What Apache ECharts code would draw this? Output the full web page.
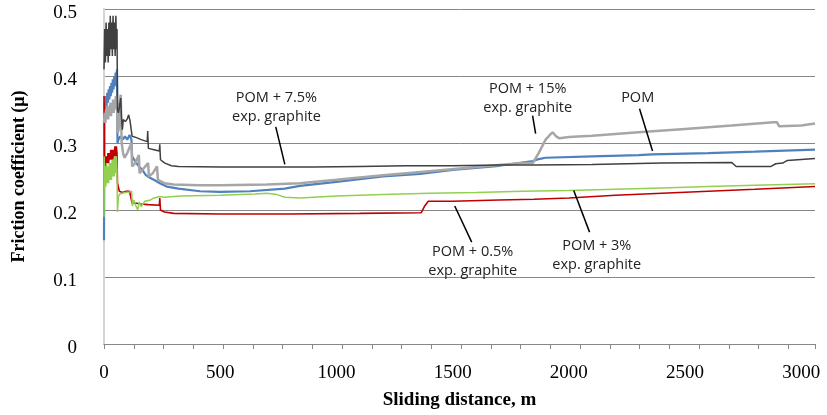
<!DOCTYPE html>
<html>
<head>
<meta charset="utf-8">
<script src="https://cdn.jsdelivr.net/npm/echarts@6/dist/echarts.min.js"></script>
<style>
  html, body { margin: 0; padding: 0; background: #fff; }
  #chart { width: 827px; height: 415px; }
</style>
</head>
<body>
<div id="chart"></div>
<script>
// sliding distance (m), friction coefficient
const pom = [[0,0.155],[2,0.36],[5,0.35],[8,0.37],[11,0.355],[14,0.375],[17,0.36],[20,0.38],[23,0.365],[26,0.385],[29,0.37],[32,0.39],[35,0.375],[38,0.395],[41,0.38],[44,0.40],[47,0.385],[50,0.405],[53,0.39],[56,0.41],[58,0.30],[62,0.305],[70,0.31],[80,0.305],[90,0.31],[100,0.305],[110,0.312],[118,0.305],[121,0.28],[130,0.275],[140,0.27],[150,0.265],[165,0.26],[180,0.252],[198,0.248],[220,0.244],[240,0.24],[270,0.235],[320,0.232],[413,0.228],[500,0.227],[628,0.228],[778,0.232],[843,0.236],[1000,0.242],[1200,0.25],[1360,0.254],[1500,0.26],[1700,0.266],[1845,0.273],[1870,0.276],[1900,0.278],[2100,0.28],[2300,0.282],[2360,0.283],[2600,0.285],[2800,0.287],[3059,0.29]];

const pom05 = [[0,0.37],[1,0.35],[2,0.27],[5,0.28],[8,0.265],[11,0.28],[14,0.27],[17,0.285],[20,0.27],[23,0.285],[26,0.275],[29,0.29],[32,0.275],[35,0.29],[38,0.275],[41,0.29],[44,0.28],[47,0.295],[50,0.28],[53,0.295],[56,0.285],[58,0.24],[62,0.238],[66,0.228],[80,0.226],[95,0.228],[110,0.228],[118,0.23],[121,0.21],[140,0.21],[160,0.209],[190,0.208],[238,0.207],[240,0.218],[243,0.2],[260,0.197],[300,0.195],[500,0.194],[800,0.194],[1100,0.195],[1365,0.196],[1380,0.206],[1395,0.213],[1500,0.213],[1700,0.215],[1850,0.216],[2000,0.218],[2200,0.222],[2400,0.225],[2600,0.228],[2800,0.231],[3059,0.235]];

const pom3 = [[0,0.19],[1,0.28],[2,0.23],[5,0.265],[8,0.235],[11,0.27],[14,0.24],[17,0.265],[20,0.24],[23,0.27],[26,0.245],[29,0.27],[32,0.245],[35,0.275],[38,0.25],[41,0.275],[44,0.25],[47,0.28],[50,0.255],[53,0.28],[56,0.26],[58,0.197],[62,0.22],[68,0.224],[90,0.226],[110,0.227],[119,0.228],[122,0.206],[128,0.215],[135,0.208],[145,0.2],[152,0.212],[160,0.205],[175,0.213],[200,0.215],[215,0.218],[240,0.22],[260,0.219],[330,0.221],[500,0.222],[650,0.224],[700,0.225],[745,0.223],[778,0.219],[843,0.218],[1000,0.221],[1200,0.223],[1400,0.225],[1600,0.226],[1800,0.228],[2000,0.229],[2200,0.231],[2400,0.233],[2600,0.235],[2800,0.237],[3059,0.239]];

const pom15 = [[0,0.33],[3,0.345],[6,0.33],[9,0.35],[12,0.335],[15,0.355],[18,0.335],[21,0.355],[24,0.34],[27,0.36],[30,0.34],[33,0.36],[36,0.345],[39,0.365],[42,0.345],[45,0.365],[48,0.35],[51,0.37],[54,0.35],[57,0.36],[59,0.315],[63,0.32],[68,0.36],[72,0.372],[76,0.30],[82,0.285],[88,0.278],[100,0.285],[112,0.295],[118,0.30],[121,0.265],[135,0.27],[150,0.282],[153,0.255],[170,0.262],[190,0.27],[193,0.25],[210,0.255],[228,0.265],[232,0.245],[260,0.24],[300,0.238],[413,0.237],[500,0.237],[700,0.238],[843,0.24],[1000,0.245],[1200,0.252],[1400,0.258],[1600,0.264],[1800,0.27],[1845,0.27],[1870,0.285],[1900,0.305],[1918,0.312],[1930,0.316],[1945,0.31],[1960,0.307],[2000,0.309],[2100,0.311],[2300,0.316],[2500,0.321],[2700,0.326],[2880,0.331],[2895,0.331],[2905,0.325],[3000,0.326],[3059,0.329]];

const pom75 = [[0,0.41],[3,0.47],[6,0.42],[9,0.48],[12,0.43],[15,0.47],[18,0.42],[21,0.48],[24,0.43],[27,0.49],[30,0.44],[33,0.48],[36,0.43],[39,0.49],[42,0.44],[45,0.48],[48,0.43],[51,0.49],[54,0.44],[56,0.47],[58,0.35],[62,0.345],[67,0.355],[72,0.367],[75,0.34],[79,0.32],[83,0.335],[92,0.332],[100,0.336],[106,0.342],[112,0.333],[118,0.333],[121,0.31],[140,0.308],[160,0.305],[186,0.302],[188,0.318],[191,0.292],[215,0.29],[238,0.288],[240,0.298],[243,0.275],[262,0.27],[290,0.266],[320,0.265],[500,0.264],[778,0.264],[900,0.264],[1100,0.265],[1300,0.266],[1500,0.266],[1700,0.267],[1850,0.267],[2100,0.268],[2400,0.27],[2700,0.271],[2720,0.265],[2870,0.265],[2890,0.269],[2920,0.27],[2940,0.274],[3059,0.277]];

// annotation text position and arrow [from, to], in data coordinates
const noteText = ['POM + 7.5%\nexp. graphite', 'POM + 15%\nexp. graphite', 'POM', 'POM + 0.5%\nexp. graphite', 'POM + 3%\nexp. graphite'];
const notePos = [[742,0.353], [1823,0.367], [2296,0.367], [1586,0.123], [2120,0.133]];
const arrowFrom = [[739,0.324], [1844,0.341], [2304,0.351], [1582,0.152], [2089,0.167]];
const arrowTo = [[778,0.268], [1857,0.314], [2360,0.288], [1509,0.206], [2021,0.229]];

const xMax = 3059;
const serif = 'Liberation Serif';
const axisGrey = '#878787';

const chart = echarts.init(document.getElementById('chart'));

function line(name, data, color, width, extra) {
  return Object.assign({
    name: name,
    type: 'line',
    data: data,
    showSymbol: false,
    symbol: 'none',
    lineStyle: {color: color, width: width},
    itemStyle: {color: color}
  }, extra || {});
}

chart.setOption({
  animation: false,
  grid: {left: 104, right: 12, top: 9, bottom: 67},
  xAxis: [{
    // tick marks every 128 m, as on the original axis
    type: 'value',
    min: 0, max: xMax, interval: 128,
    axisLine: {show: true, onZero: false, lineStyle: {color: axisGrey}},
    axisTick: {show: true, inside: false, length: 5, lineStyle: {color: axisGrey, width: 1}},
    axisLabel: {show: false},
    splitLine: {show: false}
  }, {
    type: 'value',
    position: 'bottom',
    min: 0, max: xMax, interval: 500,
    name: 'Sliding distance, m',
    nameLocation: 'middle',
    nameGap: 47,
    nameTextStyle: {fontFamily: serif, fontWeight: 'bold', fontSize: 19, color: '#000'},
    axisLine: {show: false},
    axisTick: {show: false},
    splitLine: {show: false},
    axisLabel: {
      fontFamily: serif, fontSize: 19, color: '#000', margin: 20,
      formatter: v => (v % 500 === 0 ? String(v) : '')
    }
  }],
  yAxis: {
    type: 'value',
    min: 0, max: 0.5, interval: 0.1,
    name: 'Friction coefficient (μ)',
    nameLocation: 'middle',
    nameGap: 76,
    nameTextStyle: {fontFamily: serif, fontWeight: 'bold', fontSize: 18, color: '#000'},
    axisLine: {show: true, lineStyle: {color: '#d4d4d4', width: 2}},
    axisTick: {show: false},
    axisLabel: {fontFamily: serif, fontSize: 19, color: '#000', margin: 27, verticalAlign: 'top', lineHeight: 8},
    splitLine: {lineStyle: {color: axisGrey, width: 1}}
  },
  series: [
    line('POM', pom, '#4f81bd', 2.2),
    line('POM + 0.5%', pom05, '#c00000', 1.6),
    line('POM + 3%', pom3, '#92d050', 1.5),
    line('POM + 15%', pom15, '#a6a6a6', 2.5),
    line('POM + 7.5%', pom75, '#404040', 1.5, {
      markLine: {
        silent: true,
        symbol: ['none', 'arrow'],
        symbolSize: [0, 11],
        label: {show: false},
        lineStyle: {color: '#000', width: 1.5, type: 'solid'},
        data: arrowFrom.map((p, i) => [{coord: p}, {coord: arrowTo[i]}])
      },
      markPoint: {
        silent: true,
        symbol: 'circle',
        symbolSize: 0,
        label: {
          show: true, position: 'inside', color: '#222',
          fontFamily: 'Open Sans', fontSize: 14.5, lineHeight: 19,
          formatter: p => p.name
        },
        data: notePos.map((p, i) => ({name: noteText[i], coord: p}))
      }
    })
  ]
});
</script>
</body>
</html>
